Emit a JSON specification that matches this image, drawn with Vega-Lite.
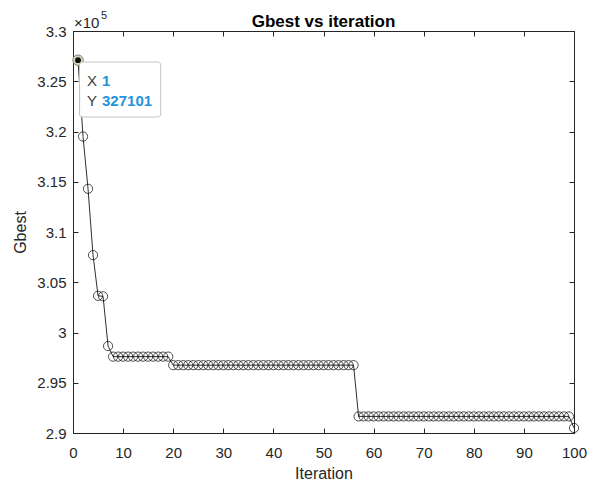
{
  "$schema": "https://vega.github.io/schema/vega-lite/v6.json",
  "autosize": {"type": "none"},
  "padding": {"left": 73, "top": 31, "right": 21, "bottom": 48},
  "width": 501,
  "height": 402,
  "background": "white",
  "title": {"text": "Gbest vs iteration", "fontSize": 17, "fontWeight": "bold", "font": "Liberation Sans", "color": "#000000", "offset": 4, "anchor": "middle", "dy": 25},
  "config": {
    "view": {"stroke": "#262626", "strokeWidth": 1},
    "axis": {"labelFont": "Liberation Sans", "titleFont": "Liberation Sans", "labelFontSize": 15, "titleFontSize": 16, "labelColor": "#262626", "titleColor": "#262626", "titleFontWeight": "normal", "domainColor": "#262626", "tickColor": "#262626", "grid": false, "tickSize": -5}
  },
  "datasets": {
    "gbest": [
      {"iteration": 1, "gbest": 327101},
      {"iteration": 2, "gbest": 319500},
      {"iteration": 3, "gbest": 314300},
      {"iteration": 4, "gbest": 307700},
      {"iteration": 5, "gbest": 303650},
      {"iteration": 6, "gbest": 303600},
      {"iteration": 7, "gbest": 298650},
      {"iteration": 8, "gbest": 297600},
      {"iteration": 9, "gbest": 297600},
      {"iteration": 10, "gbest": 297600},
      {"iteration": 11, "gbest": 297600},
      {"iteration": 12, "gbest": 297600},
      {"iteration": 13, "gbest": 297600},
      {"iteration": 14, "gbest": 297600},
      {"iteration": 15, "gbest": 297600},
      {"iteration": 16, "gbest": 297600},
      {"iteration": 17, "gbest": 297600},
      {"iteration": 18, "gbest": 297600},
      {"iteration": 19, "gbest": 297600},
      {"iteration": 20, "gbest": 296750},
      {"iteration": 21, "gbest": 296750},
      {"iteration": 22, "gbest": 296750},
      {"iteration": 23, "gbest": 296750},
      {"iteration": 24, "gbest": 296750},
      {"iteration": 25, "gbest": 296750},
      {"iteration": 26, "gbest": 296750},
      {"iteration": 27, "gbest": 296750},
      {"iteration": 28, "gbest": 296750},
      {"iteration": 29, "gbest": 296750},
      {"iteration": 30, "gbest": 296750},
      {"iteration": 31, "gbest": 296750},
      {"iteration": 32, "gbest": 296750},
      {"iteration": 33, "gbest": 296750},
      {"iteration": 34, "gbest": 296750},
      {"iteration": 35, "gbest": 296750},
      {"iteration": 36, "gbest": 296750},
      {"iteration": 37, "gbest": 296750},
      {"iteration": 38, "gbest": 296750},
      {"iteration": 39, "gbest": 296750},
      {"iteration": 40, "gbest": 296750},
      {"iteration": 41, "gbest": 296750},
      {"iteration": 42, "gbest": 296750},
      {"iteration": 43, "gbest": 296750},
      {"iteration": 44, "gbest": 296750},
      {"iteration": 45, "gbest": 296750},
      {"iteration": 46, "gbest": 296750},
      {"iteration": 47, "gbest": 296750},
      {"iteration": 48, "gbest": 296750},
      {"iteration": 49, "gbest": 296750},
      {"iteration": 50, "gbest": 296750},
      {"iteration": 51, "gbest": 296750},
      {"iteration": 52, "gbest": 296750},
      {"iteration": 53, "gbest": 296750},
      {"iteration": 54, "gbest": 296750},
      {"iteration": 55, "gbest": 296750},
      {"iteration": 56, "gbest": 296750},
      {"iteration": 57, "gbest": 291650},
      {"iteration": 58, "gbest": 291650},
      {"iteration": 59, "gbest": 291650},
      {"iteration": 60, "gbest": 291650},
      {"iteration": 61, "gbest": 291650},
      {"iteration": 62, "gbest": 291650},
      {"iteration": 63, "gbest": 291650},
      {"iteration": 64, "gbest": 291650},
      {"iteration": 65, "gbest": 291650},
      {"iteration": 66, "gbest": 291650},
      {"iteration": 67, "gbest": 291650},
      {"iteration": 68, "gbest": 291650},
      {"iteration": 69, "gbest": 291650},
      {"iteration": 70, "gbest": 291650},
      {"iteration": 71, "gbest": 291650},
      {"iteration": 72, "gbest": 291650},
      {"iteration": 73, "gbest": 291650},
      {"iteration": 74, "gbest": 291650},
      {"iteration": 75, "gbest": 291650},
      {"iteration": 76, "gbest": 291650},
      {"iteration": 77, "gbest": 291650},
      {"iteration": 78, "gbest": 291650},
      {"iteration": 79, "gbest": 291650},
      {"iteration": 80, "gbest": 291650},
      {"iteration": 81, "gbest": 291650},
      {"iteration": 82, "gbest": 291650},
      {"iteration": 83, "gbest": 291650},
      {"iteration": 84, "gbest": 291650},
      {"iteration": 85, "gbest": 291650},
      {"iteration": 86, "gbest": 291650},
      {"iteration": 87, "gbest": 291650},
      {"iteration": 88, "gbest": 291650},
      {"iteration": 89, "gbest": 291650},
      {"iteration": 90, "gbest": 291650},
      {"iteration": 91, "gbest": 291650},
      {"iteration": 92, "gbest": 291650},
      {"iteration": 93, "gbest": 291650},
      {"iteration": 94, "gbest": 291650},
      {"iteration": 95, "gbest": 291650},
      {"iteration": 96, "gbest": 291650},
      {"iteration": 97, "gbest": 291650},
      {"iteration": 98, "gbest": 291650},
      {"iteration": 99, "gbest": 291650},
      {"iteration": 100, "gbest": 290500}
    ]
  },
  "data": {"name": "gbest"},
  "resolve": {"axis": {"x": "independent", "y": "independent"}},
  "layer": [
    {
      "mark": {"type": "line", "color": "#303030", "strokeWidth": 1, "clip": false},
      "encoding": {
        "x": {"field": "iteration", "type": "quantitative", "scale": {"domain": [0, 100], "nice": false, "zero": false},
          "axis": {"orient": "bottom", "title": "Iteration", "values": [0,10,20,30,40,50,60,70,80,90,100], "labelPadding": 17, "titlePadding": 5, "labelFlush": false}},
        "y": {"field": "gbest", "type": "quantitative", "scale": {"domain": [290000, 330000], "nice": false, "zero": false},
          "axis": {"orient": "left", "title": "Gbest", "values": [290000,295000,300000,305000,310000,315000,320000,325000,330000], "labelExpr": "toString(round(datum.value/100)/1000)", "labelPadding": 12, "titlePadding": 8}}
      }
    },
    {
      "mark": {"type": "point", "shape": "circle", "filled": false, "stroke": "#000000", "strokeWidth": 1, "size": 85, "clip": false},
      "encoding": {
        "x": {"field": "iteration", "type": "quantitative", "axis": {"orient": "top", "title": null, "labels": false, "values": [0,10,20,30,40,50,60,70,80,90,100], "domain": false}},
        "y": {"field": "gbest", "type": "quantitative", "axis": {"orient": "right", "title": null, "labels": false, "values": [290000,295000,300000,305000,310000,315000,320000,325000,330000], "domain": false}}
      }
    },
    {
      "transform": [{"filter": "datum.iteration == 1"}],
      "mark": {"type": "point", "shape": "circle", "filled": true, "color": "#d8d8c0", "size": 110, "opacity": 1, "stroke": "#8a8a70", "strokeWidth": 1},
      "encoding": {
        "x": {"field": "iteration", "type": "quantitative", "axis": null},
        "y": {"field": "gbest", "type": "quantitative", "axis": null}
      }
    },
    {
      "transform": [{"filter": "datum.iteration == 1"}],
      "mark": {"type": "point", "shape": "circle", "filled": true, "color": "#111111", "size": 35, "opacity": 1},
      "encoding": {
        "x": {"field": "iteration", "type": "quantitative", "axis": null},
        "y": {"field": "gbest", "type": "quantitative", "axis": null}
      }
    },
    {
      "data": {"values": [{}]},
      "mark": {"type": "rect", "fill": "#ffffff", "fillOpacity": 0.95, "stroke": "#c4c4c4", "strokeWidth": 1, "cornerRadius": 3},
      "encoding": {
        "x": {"datum": 1.3, "type": "quantitative", "axis": null},
        "x2": {"datum": 17.5},
        "y": {"datum": 326915, "type": "quantitative", "axis": null},
        "y2": {"datum": 321443}
      }
    },
    {
      "transform": [{"filter": "datum.iteration == 1"}],
      "mark": {"type": "text", "text": "X", "font": "Liberation Sans", "fontSize": 15, "color": "#404040", "align": "left", "baseline": "alphabetic", "dx": 9, "dy": 26},
      "encoding": {
        "x": {"field": "iteration", "type": "quantitative", "axis": null},
        "y": {"field": "gbest", "type": "quantitative", "axis": null}
      }
    },
    {
      "transform": [{"filter": "datum.iteration == 1"}],
      "mark": {"type": "text", "font": "Liberation Sans", "fontSize": 15, "fontWeight": "bold", "color": "#2394dc", "align": "left", "baseline": "alphabetic", "dx": 24, "dy": 26},
      "encoding": {
        "x": {"field": "iteration", "type": "quantitative", "axis": null},
        "y": {"field": "gbest", "type": "quantitative", "axis": null},
        "text": {"field": "iteration", "type": "nominal"}
      }
    },
    {
      "transform": [{"filter": "datum.iteration == 1"}],
      "mark": {"type": "text", "text": "Y", "font": "Liberation Sans", "fontSize": 15, "color": "#404040", "align": "left", "baseline": "alphabetic", "dx": 9, "dy": 46},
      "encoding": {
        "x": {"field": "iteration", "type": "quantitative", "axis": null},
        "y": {"field": "gbest", "type": "quantitative", "axis": null}
      }
    },
    {
      "transform": [{"filter": "datum.iteration == 1"}],
      "mark": {"type": "text", "font": "Liberation Sans", "fontSize": 15, "fontWeight": "bold", "color": "#2394dc", "align": "left", "baseline": "alphabetic", "dx": 24, "dy": 46},
      "encoding": {
        "x": {"field": "iteration", "type": "quantitative", "axis": null},
        "y": {"field": "gbest", "type": "quantitative", "axis": null},
        "text": {"field": "gbest", "type": "nominal"}
      }
    },
    {
      "data": {"values": [{}]},
      "mark": {"type": "text", "text": "×10", "font": "Liberation Sans", "fontSize": 15, "color": "#262626", "align": "left", "baseline": "alphabetic", "dx": 1, "dy": -3},
      "encoding": {
        "x": {"datum": 0, "type": "quantitative", "axis": null},
        "y": {"datum": 330000, "type": "quantitative", "axis": null}
      }
    },
    {
      "data": {"values": [{}]},
      "mark": {"type": "text", "text": "5", "font": "Liberation Sans", "fontSize": 11, "color": "#262626", "align": "left", "baseline": "alphabetic", "dx": 28, "dy": -12},
      "encoding": {
        "x": {"datum": 0, "type": "quantitative", "axis": null},
        "y": {"datum": 330000, "type": "quantitative", "axis": null}
      }
    }
  ]
}
